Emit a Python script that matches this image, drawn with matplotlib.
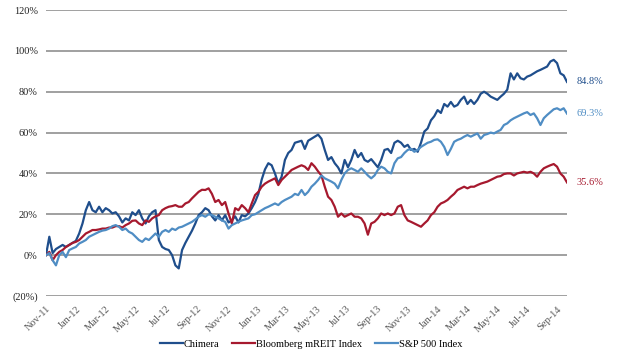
import matplotlib
matplotlib.use("Agg")
import matplotlib.pyplot as plt
import matplotlib.dates as mdates
import pandas as pd
import numpy as np

# ---- data (cumulative total return, %) ----
start_date = "2011-11-01"
end_date = "2014-09-21"

chimera = [0,
    9, 1, 3, 4, 5, 4, 5, 6, 7, 10.6, 15.5, 22, 26, 22, 21, 23.7, 21, 23, 22, 20.4,
    21, 19, 16, 18, 17, 21, 19.6, 22, 18, 15.5, 19, 21, 22, 7.4, 4, 3, 2.5, 0, -5, -6.5,
    2.5, 6, 9, 12, 15.5, 19.6, 21, 23, 22, 19, 17, 19.6, 17, 19.6, 16, 17, 19, 16, 19.6, 19,
    20.4, 23, 26, 30, 37, 42, 45, 44, 40, 35, 38.4, 46.6, 50, 51.5, 55, 55.5, 56,
    52, 56, 57, 58, 59, 57, 51.5, 46.6, 48, 45, 43, 40, 46.6, 43, 46.6, 51.5, 48, 50, 46.6, 45.7,
    47, 45, 43, 46.6, 51.5, 52, 50, 55, 56, 55, 53, 54, 51.5, 52, 50.6, 55, 60.5, 62, 66, 68,
    71, 69.6, 74, 72.7, 75, 72.7, 73.5, 76, 77.6, 74, 76, 74, 76, 79, 80, 79, 77.6, 76.8, 76, 77.6,
    79, 81, 89, 86, 89, 86.6, 86, 87.4, 88, 89, 90, 90.7, 91.5, 92.3, 94.8, 95.6, 94, 89, 88, 84.8]

mreit = [0,
    1.6, -2.5, 0, 1.6, 2.5, 4, 5, 6, 6.5, 7.4, 9, 10.6, 11.4, 12.3, 12.3, 12.6, 13, 13, 13.5, 13.5,
    14.2, 14.2, 13.5, 14.7, 15.5, 16.8, 17, 15.5, 14.7, 17, 16.3, 18, 19, 19.6, 22, 23, 23.7, 24, 24.5, 23.7,
    23.7, 25.3, 26, 27.8, 29.4, 31, 32, 31.9, 32.7, 30, 26, 27, 24.5, 26, 20.4, 15.5, 23, 22, 24.5, 23,
    21, 25.3, 29.4, 31, 33.5, 35, 36, 36.8, 37.6, 34.3, 36.8, 38.4, 40, 41.7, 42.5, 43.3, 44,
    43.3, 41.7, 45, 43.3, 41, 39, 33.5, 28.6, 27, 23.7, 18.8, 20.4, 18.8, 19.6, 20.4, 18.8, 18.8, 18, 15.5, 10,
    15.5, 16.3, 18, 20.4, 19.6, 20.4, 19.6, 20.4, 23.7, 24.5, 19.6, 17, 16.3, 15.5, 14.7, 13.9, 15.5, 17, 19.6, 21,
    23.7, 25.3, 26, 27, 28.6, 30, 31.9, 32.7, 33.5, 32.7, 33.5, 33.5, 34.3, 35, 35.5, 36, 36.8, 37.6, 38.4, 38.7,
    39.7, 40, 40, 39, 40, 40.4, 40.8, 40.4, 40.8, 40, 38.4, 40.8, 42.5, 43.3, 44, 44.6, 43.3, 40, 38.4, 35.6]

sp500 = [0,
    1, -2.5, -5, 0, 1.6, -1, 2.5, 3.3, 4, 5.7, 6.5, 7.4, 9, 9.8, 10.6, 11.4, 12, 12.3, 13, 14.2,
    14.7, 13.9, 12.3, 13, 11.4, 10.6, 9, 7.4, 6.5, 8.2, 7.4, 9, 10.6, 9, 11.4, 12.3, 11.4, 13, 12.3, 13.5,
    13.9, 14.7, 15.5, 16.3, 17.5, 18.8, 19.6, 18.8, 20, 19.6, 18.8, 18, 17, 16.3, 13, 14.7, 15.5, 16.3, 17, 17.5,
    18, 19.6, 20, 21, 22, 23, 23.7, 24.5, 25.3, 24.5, 26, 27, 27.8, 28.6, 30, 29.4, 31.9,
    29.4, 31, 33.5, 35, 36.8, 39, 37.6, 36.8, 36, 35, 32.7, 36.8, 40, 41.7, 42.5, 41.7, 40.8, 42.5, 40.8, 39,
    37.6, 39, 41.7, 43.3, 42.5, 40.8, 40, 45, 47.4, 48, 50, 51.5, 52, 50.6, 51.5, 53, 54, 55, 55.5, 56.4,
    56.7, 55.5, 53, 49, 52, 55.5, 56.4, 57, 58, 58.8, 58, 58.8, 59.6, 57, 58.8, 59.3, 60, 59.6, 60.5, 61.3,
    63.7, 64.5, 66, 67, 67.8, 68.6, 69.4, 70, 68.6, 69.4, 67, 63.7, 67, 68.6, 70, 71.4, 71.9, 71, 71.9, 69.3]

series_names = ["Chimera", "Bloomberg mREIT Index", "S&P 500 Index"]
series_values = [chimera, mreit, sp500]
series_colors = ["#1F4E8C", "#A6192E", "#4F8DC4"]
end_labels = ["84.8%", "35.6%", "69.3%"]

y_ticks = [-20, 0, 20, 40, 60, 80, 100, 120]
y_ticklabels = ["(20%)", "0%", "20%", "40%", "60%", "80%", "100%", "120%"]

dates = pd.date_range(start_date, end_date, periods=len(chimera))

# ---- figure ----
plt.rcParams["font.family"] = ["Liberation Serif", "DejaVu Serif"]
fig = plt.figure(figsize=(6.23, 3.58), dpi=100)
ax = fig.add_axes([46 / 623, 1 - 296 / 358, (567 - 46) / 623, (296 - 10) / 358])

for y in y_ticks:
    ax.axhline(y, color="#A0A0A0", lw=1.4, zorder=1)

lines = []
for name, vals, col in zip(series_names, series_values, series_colors):
    ln, = ax.plot(dates, vals, color=col, lw=1.6, label=name, zorder=3)
    lines.append(ln)

# end-of-series labels
for vals, col, lab in zip(series_values, series_colors, end_labels):
    ax.annotate(lab, xy=(dates[-1], vals[-1]), xytext=(7, 0), textcoords="offset points",
                color=col, fontsize=7.5, va="center", ha="left", annotation_clip=False)

ax.set_xlim(dates[0], dates[-1])
ax.set_ylim(-20, 120)
ax.set_yticks(y_ticks)
ax.set_yticklabels(y_ticklabels, fontsize=7.5, color="#222222")

ticks = pd.date_range("2011-11-01", "2014-09-01", freq="2MS")
ax.set_xticks(ticks)
ax.xaxis.set_major_formatter(mdates.DateFormatter("%b-%y"))
for lbl in ax.get_xticklabels():
    lbl.set_rotation(45)
    lbl.set_ha("right")
    lbl.set_va("top")
    lbl.set_rotation_mode("anchor")
    lbl.set_fontsize(7.5)
    lbl.set_color("#595959")

ax.tick_params(axis="both", length=0, pad=6)
for s in ax.spines.values():
    s.set_visible(False)

leg = fig.legend(handles=lines, labels=series_names, loc="center", bbox_to_anchor=(311 / 623, 1 - 344 / 358),
                 ncol=3, frameon=False, fontsize=7.5, handlelength=2.2, handletextpad=0.1,
                 columnspacing=1.2)

fig.savefig("out.png", dpi=100)
